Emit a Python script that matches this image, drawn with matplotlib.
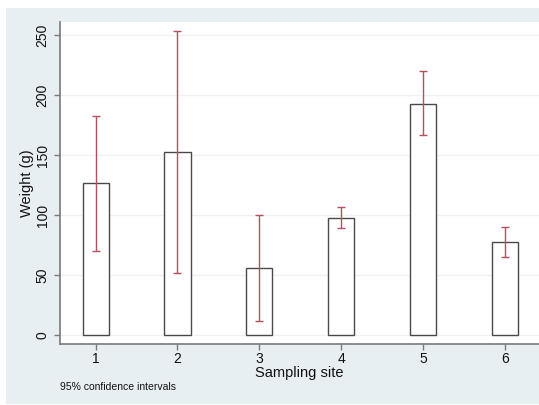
import matplotlib.pyplot as plt
from matplotlib.patches import Rectangle

plt.rcParams['font.family'] = ['Liberation Sans', 'DejaVu Sans']

# mean weight per sampling site with 95% CI
sites = [1, 2, 3, 4, 5, 6]
mean_weight = [126.4, 152.2, 55.5, 97.2, 192.8, 77.2]
ci_low = [70.3, 51.7, 12.0, 89.0, 166.4, 64.7]
ci_high = [182.5, 253.3, 100.0, 107.0, 219.7, 90.0]

fig = plt.figure(figsize=(5.39, 4.05), dpi=100)
fig.patch.set_facecolor("white")

# graph region background (behind the axes)
bg = Rectangle((6/539, 1/405), 533/539, 396/405,
               transform=fig.transFigure, facecolor="#e8eff2",
               edgecolor="none", zorder=-1)
fig.add_artist(bg)

ax = fig.add_axes([60/539, 1-344/405, 479/539, 322/405])
ax.set_zorder(1)
ax.set_facecolor("white")

ax.bar(sites, mean_weight, width=0.32, color="white",
       edgecolor="#4a4a4a", linewidth=1, zorder=2)

err_lo = [m - l for m, l in zip(mean_weight, ci_low)]
err_hi = [h - m for m, h in zip(mean_weight, ci_high)]
ax.errorbar(sites, mean_weight, yerr=[err_lo, err_hi], fmt="none",
            ecolor="#b5505e", elinewidth=1, capsize=3, capthick=1, zorder=3)

ax.set_xlim(0.564, 6.42)
ax.set_ylim(-7.5, 260.8)
ax.set_xticks(sites)
ax.set_yticks([0, 50, 100, 150, 200, 250])
ax.grid(axis="y", color="#eef2f3", linewidth=1, zorder=0)
ax.set_axisbelow(True)

for s in ["top", "right"]:
    ax.spines[s].set_visible(False)
for s in ["left", "bottom"]:
    ax.spines[s].set_color("#7a7a7a")
    ax.spines[s].set_linewidth(1.2)

ax.tick_params(axis="both", colors="#7a7a7a", length=4, width=1,
               labelcolor="#111111", labelsize=10)
ax.tick_params(axis="x", pad=1.5)
plt.setp(ax.get_yticklabels(), rotation=90, va="center")

ax.set_xlabel("Sampling site", fontsize=10.5, labelpad=0, color="#111111")
ax.set_ylabel("Weight (g)", fontsize=10.5, labelpad=1, color="#111111")

fig.text(60/539, 1-387/405, "95% confidence intervals", fontsize=7.5,
         va="center", ha="left", color="#111111")

fig.savefig("out.png", dpi=100)
